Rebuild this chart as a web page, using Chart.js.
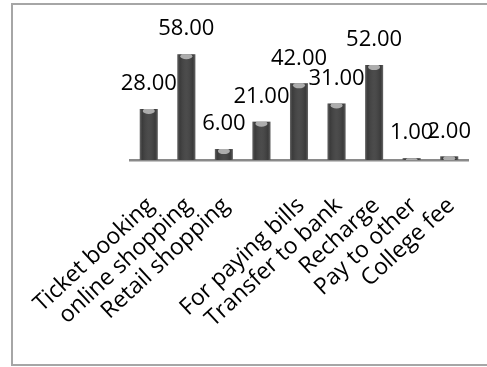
<!DOCTYPE html>
<html>
<head>
<meta charset="utf-8">
<script src="https://cdn.jsdelivr.net/npm/chart.js@4.4.0/dist/chart.umd.min.js"></script>
<style>
  html, body { margin: 0; padding: 0; background: #fff; }
  canvas { display: block; }
</style>
</head>
<body>
<canvas id="barChart" width="487" height="367"></canvas>
<script>
// category names (4th one is blank in the source)
const categories = [
  "Ticket booking",
  "online shopping",
  "Retail shopping",
  "",
  "For paying bills",
  "Transfer to bank",
  "Recharge",
  "Pay to other",
  "College fee",
];
const values = [28, 58, 6, 21, 42, 31, 52, 1, 2];

// white background + grey frame
const framePlugin = {
  id: "frame",
  beforeDraw(chart) {
    const ctx = chart.ctx;
    ctx.save();
    ctx.fillStyle = "#fff";
    ctx.fillRect(0, 0, chart.width, chart.height);
    ctx.strokeStyle = "#a6a6a6";
    ctx.lineWidth = 2;
    ctx.strokeRect(12, 4, chart.width, 361);
    ctx.restore();
  },
};

// shading on the bars + value labels
const valueLabels = {
  id: "valueLabels",
  afterDatasetsDraw(chart) {
    const ctx = chart.ctx;
    const meta = chart.getDatasetMeta(0);
    meta.data.forEach((bar, i) => {
      const w = bar.width;
      const left = bar.x - w / 2;
      const h = bar.base - bar.y;

      ctx.save();
      ctx.beginPath();
      ctx.rect(left, bar.y, w, h);
      ctx.clip();
      const grad = ctx.createLinearGradient(left, 0, left + w, 0);
      grad.addColorStop(0, "rgba(255,255,255,0.22)");
      grad.addColorStop(0.15, "rgba(0,0,0,0.1)");
      grad.addColorStop(0.5, "rgba(255,255,255,0.05)");
      grad.addColorStop(0.85, "rgba(0,0,0,0.1)");
      grad.addColorStop(1, "rgba(255,255,255,0.22)");
      ctx.fillStyle = grad;
      ctx.fillRect(left, bar.y, w, h);
      // light cap at the top
      ctx.fillStyle = "rgba(190,190,190,0.85)";
      ctx.beginPath();
      ctx.ellipse(bar.x, bar.y + 2, w / 2 - 3, 3, 0, 0, Math.PI * 2);
      ctx.fill();
      ctx.restore();

      ctx.save();
      ctx.fillStyle = "#000";
      ctx.font = "22px 'Open Sans'";
      ctx.textAlign = "center";
      ctx.textBaseline = "middle";
      ctx.fillText(values[i].toFixed(2), bar.x, bar.y - 25);
      ctx.restore();
    });
  },
};

new Chart(document.getElementById("barChart"), {
  type: "bar",
  data: {
    labels: categories,
    datasets: [
      {
        data: values,
        backgroundColor: "#424242",
        borderWidth: 0,
        barPercentage: 0.48,
        categoryPercentage: 1,
      },
    ],
  },
  options: {
    responsive: false,
    animation: false,
    layout: {
      padding: { top: 14, left: 130, right: 19, bottom: 0 },
    },
    plugins: {
      legend: { display: false },
      tooltip: { enabled: false },
    },
    scales: {
      y: {
        display: false,
        min: 0,
        max: 80,
      },
      x: {
        grid: { display: false },
        border: { display: true, color: "#8a8a8a", width: 2.5 },
        ticks: {
          color: "#000",
          font: { family: "'Open Sans'", size: 23 },
          maxRotation: 43,
          minRotation: 43,
          autoSkip: false,
          padding: 24,
          labelOffset: 2,
        },
        afterFit: (scale) => {
          // fixed axis band, no extra side padding from rotated labels
          scale.height = 207;
          scale.paddingLeft = 0;
          scale.paddingRight = 0;
        },
      },
    },
  },
  plugins: [framePlugin, valueLabels],
});
</script>
</body>
</html>
